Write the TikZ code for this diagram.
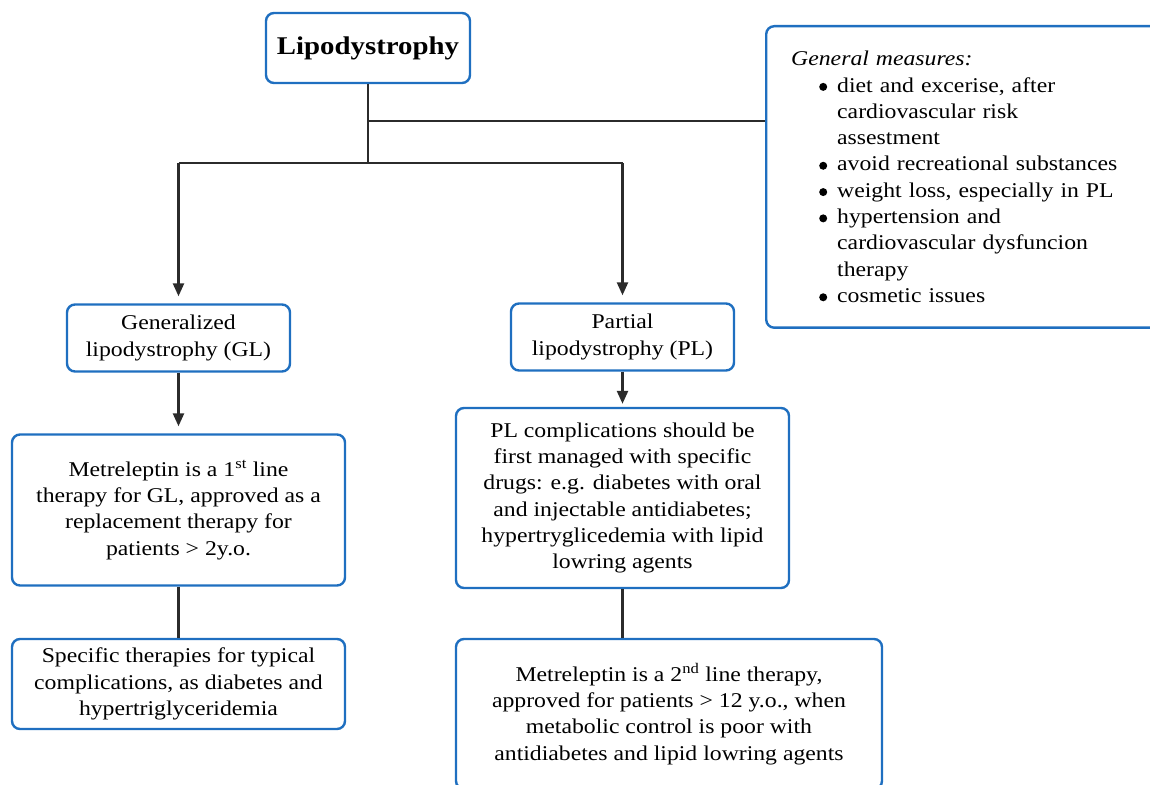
\documentclass[tikz,border=0pt]{standalone}
\usepackage{fontspec}
\setmainfont[FakeStretch=1.13]{Liberation Serif}
\usepackage{enumitem}
\usepackage{tikz}
\usetikzlibrary{arrows.meta,calc}
\definecolor{boxblue}{HTML}{1F6FC0}
\definecolor{linkgray}{HTML}{2B2B2B}
\newcommand{\bigdot}{\raisebox{1.2pt}{\tikz\fill (0,0) circle (4pt);}}

\begin{document}
\begin{tikzpicture}
		[x=1pt,y=-1pt,
		every node/.style={font=\fontsize{21}{26.3}\selectfont,align=center},
		box/.style={draw=boxblue,line width=2.4pt,rounded corners=8pt,fill=white,inner sep=0pt},
		link/.style={draw=linkgray,line width=2.4pt},
		arrow/.style={link,-{Triangle[length=13pt,width=11pt]},shorten >=7pt}]
		\useasboundingbox (0,0) rectangle (1150,784);
		\clip (0,0) rectangle (1150,784);
		% boxes
		\node[box,minimum width=204,minimum height=70] (lipo) at (368,48)
			{\fontsize{25.5}{30}\selectfont\bfseries Lipodystrophy};
		\node[box,align=left,text width=360,inner xsep=25pt,inner ysep=25pt,anchor=north west] (gen) at (765,25)
			{\textit{General measures:}
			\begin{itemize}[leftmargin=46pt,labelsep=10pt,itemsep=0pt,topsep=0pt,parsep=0pt,partopsep=0pt,label=\bigdot]
			\item diet and excerise, after\\ cardiovascular risk\\ assestment
			\item avoid recreational substances
			\item weight loss, especially in PL
			\item hypertension and\\ cardiovascular dysfuncion\\ therapy
			\item cosmetic issues
			\end{itemize}};
		\node[box,minimum width=223,minimum height=67] (gl) at (178.5,338)
			{Generalized\\ lipodystrophy (GL)};
		\node[box,minimum width=223,minimum height=67] (pl) at (622.5,337)
			{Partial\\ lipodystrophy (PL)};
		\node[box,minimum width=333,minimum height=151] (met1) at (178.5,510)
			{Metreleptin is a 1\textsuperscript{st} line\\ therapy for GL, approved as a\\ replacement therapy for\\ patients > 2y.o.};
		\node[box,minimum width=333,minimum height=90] (spec) at (178.5,684)
			{Specific therapies for typical\\ complications, as diabetes and\\ hypertriglyceridemia};
		\node[box,minimum width=333,minimum height=180] (plcomp) at (622.5,498)
			{PL complications should be\\ first managed with specific\\ drugs: e.g. diabetes with oral\\ and injectable antidiabetes;\\ hypertryglicedemia with lipid\\ lowring agents};
		\node[box,minimum width=426,minimum height=150] (met2) at (669,714)
			{Metreleptin is a 2\textsuperscript{nd} line therapy,\\ approved for patients > 12 y.o., when\\ metabolic control is poor with\\ antidiabetes and lipid lowring agents};
		% connectors
		\coordinate (tee) at ($(lipo.south)+(0,37)$);
		\coordinate (fork) at ($(lipo.south)+(0,79)$);
		\draw[link] (lipo.south) -- (fork);
		\draw[link] (tee) -- (tee -| gen.west);
		\draw[link] (fork -| gl.north) -- (fork -| pl.north);
		\draw[arrow] (fork -| gl.north) -- (gl.north);
		\draw[arrow] (fork -| pl.north) -- (pl.north);
		\draw[arrow] (gl.south) -- (met1.north);
		\draw[arrow,shorten >=3pt] (pl.south) -- (pl.south |- plcomp.north);
		\draw[link] (met1.south) -- (spec.north);
		\draw[link] (plcomp.south) -- (plcomp.south |- met2.north);
\end{tikzpicture}
\end{document}
